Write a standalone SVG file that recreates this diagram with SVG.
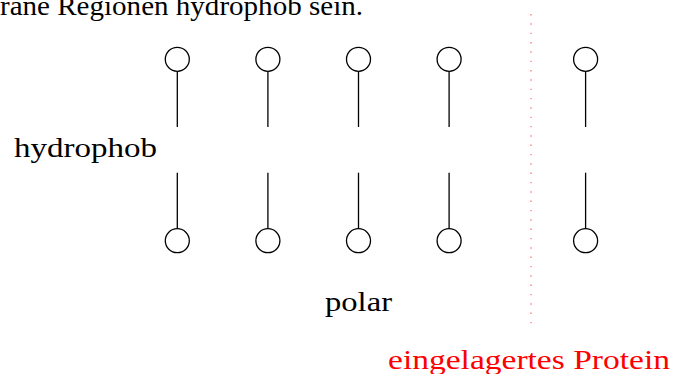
<svg xmlns="http://www.w3.org/2000/svg" width="674" height="374" viewBox="0 0 674 374">
<style>
.t{font-family:"Liberation Serif","DejaVu Serif",serif;font-size:28px;fill:#000}
.head{fill:#fff;stroke:#000;stroke-width:1.3}
.tail{stroke:#000;stroke-width:1.3;fill:none}
</style>
<rect width="674" height="374" fill="#fff"/>
<text class="t" x="0" y="15" textLength="363" lengthAdjust="spacingAndGlyphs">rane Regionen hydrophob sein.</text>
<g id="connectors">
<line class="tail" x1="177.3" y1="71.5" x2="177.3" y2="127"/>
<line class="tail" x1="267.9" y1="71.5" x2="267.9" y2="127"/>
<line class="tail" x1="358.5" y1="71.5" x2="358.5" y2="127"/>
<line class="tail" x1="449.1" y1="71.5" x2="449.1" y2="127"/>
<line class="tail" x1="585.6" y1="71.5" x2="585.6" y2="127"/>
<line class="tail" x1="177.3" y1="172.7" x2="177.3" y2="228.5"/>
<line class="tail" x1="267.9" y1="172.7" x2="267.9" y2="228.5"/>
<line class="tail" x1="358.5" y1="172.7" x2="358.5" y2="228.5"/>
<line class="tail" x1="449.1" y1="172.7" x2="449.1" y2="228.5"/>
<line class="tail" x1="585.6" y1="172.7" x2="585.6" y2="228.5"/>
</g>
<g id="top1"><circle class="head" cx="177.3" cy="59.3" r="12"/></g>
<g id="top2"><circle class="head" cx="267.9" cy="59.3" r="12"/></g>
<g id="top3"><circle class="head" cx="358.5" cy="59.3" r="12"/></g>
<g id="top4"><circle class="head" cx="449.1" cy="59.3" r="12"/></g>
<g id="top5"><circle class="head" cx="585.6" cy="59.3" r="12"/></g>
<g id="bot1"><circle class="head" cx="177.3" cy="240.7" r="12"/></g>
<g id="bot2"><circle class="head" cx="267.9" cy="240.7" r="12"/></g>
<g id="bot3"><circle class="head" cx="358.5" cy="240.7" r="12"/></g>
<g id="bot4"><circle class="head" cx="449.1" cy="240.7" r="12"/></g>
<g id="bot5"><circle class="head" cx="585.6" cy="240.7" r="12"/></g>
<line x1="531" y1="14" x2="531" y2="324" stroke="#ff8080" stroke-width="1.4" stroke-dasharray="1.4 7.93"/>
<text class="t" x="14" y="157" textLength="143" lengthAdjust="spacingAndGlyphs">hydrophob</text>
<text class="t" x="325" y="311" textLength="67" lengthAdjust="spacingAndGlyphs">polar</text>
<text class="t" x="388" y="369" textLength="282" lengthAdjust="spacingAndGlyphs" style="fill:#ff0000">eingelagertes Protein</text>
</svg>
